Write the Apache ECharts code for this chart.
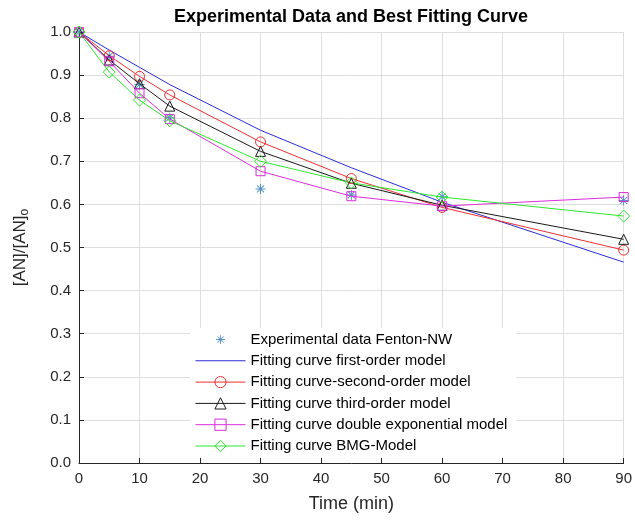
<!DOCTYPE html>
<html>
<head>
<meta charset="utf-8">
<title>Experimental Data and Best Fitting Curve</title>
<script src="https://cdn.jsdelivr.net/npm/echarts@6/dist/echarts.min.js"></script>
<style>
  html, body { margin: 0; padding: 0; background: #fff; }
  #main { width: 635px; height: 521px; }
</style>
</head>
<body>
<div id="main"></div>
<script>
// time points (min)
var times = [0, 5, 10, 15, 30, 45, 60, 90];

// values, [AN]/[AN]o
var experimental = [1.0, 0.944, 0.878, 0.801, 0.636, 0.622, 0.618, 0.609];
var firstOrder = [1.0, 0.958, 0.918, 0.878, 0.772, 0.685, 0.605, 0.466];
var secondOrder = [1.0, 0.945, 0.897, 0.854, 0.745, 0.660, 0.593, 0.494];
var thirdOrder = [1.0, 0.935, 0.880, 0.828, 0.723, 0.649, 0.598, 0.519];
var doubleExp = [1.0, 0.932, 0.858, 0.798, 0.677, 0.619, 0.596, 0.617];
var bmgModel = [1.0, 0.907, 0.842, 0.794, 0.700, 0.650, 0.617, 0.573];

var legendNames = [
    'Experimental data Fenton-NW',
    'Fitting curve first-order model',
    'Fitting curve-second-order model',
    'Fitting curve third-order model',
    'Fitting curve double exponential model',
    'Fitting curve BMG-Model'
];

var blue = '#2b2bd6';

function pairs(vals) {
    return times.map(function (t, i) { return [t, vals[i]]; });
}

// matlab style '*' marker, corners padded so the star sits inside a larger box
var asterisk = 'path://M-8 -8 Z M8 8 Z ' +
    'M-0.5 -5 L0.5 -5 L0.5 5 L-0.5 5 Z ' +
    'M-5 -0.5 L5 -0.5 L5 0.5 L-5 0.5 Z ' +
    'M-3.15 -3.85 L3.85 3.15 L3.15 3.85 L-3.85 -3.15 Z ' +
    'M-3.85 3.15 L3.15 -3.85 L3.85 -3.15 L-3.15 3.85 Z';

// plain line for the legend entry of the marker-less curve
var plainLine = 'path://M0 0 L50 0 L50 1 L0 1 Z';

var font = "'Liberation Sans', Arial, Helvetica, sans-serif";

function fitLine(name, vals, color, symbol, size) {
    return {
        name: name,
        type: 'line',
        data: pairs(vals),
        symbol: symbol,
        symbolSize: size,
        showSymbol: symbol !== 'none',
        lineStyle: { color: color, width: 1 },
        itemStyle: { color: 'rgba(0,0,0,0)', borderColor: color, borderWidth: 1 },
        emphasis: { disabled: true },
        animation: false
    };
}

var myChart = echarts.init(document.getElementById('main'));
var option = {
    backgroundColor: '#fff',
    animation: false,
    title: {
        text: 'Experimental Data and Best Fitting Curve',
        left: 351,
        textAlign: 'center',
        top: 8,
        padding: 0,
        textStyle: { fontFamily: font, fontSize: 18, fontWeight: 'bold', color: '#000' }
    },
    grid: { left: 79, right: 11, top: 32, bottom: 58 },
    legend: {
        orient: 'vertical',
        left: 190,
        top: 328,
        padding: [4, 9, 4, 5],
        backgroundColor: '#fff',
        itemWidth: 50,
        itemHeight: 14,
        itemGap: 6.3,
        itemStyle: { borderWidth: 1 },
        lineStyle: { width: 1 },
        textStyle: { fontFamily: font, fontSize: 15, color: '#000', lineHeight: 14 },
        data: [
            legendNames[0],
            { name: legendNames[1], icon: plainLine, itemStyle: { color: blue, borderWidth: 0 } },
            legendNames[2],
            legendNames[3],
            legendNames[4],
            legendNames[5]
        ]
    },
    xAxis: {
        type: 'value',
        min: 0,
        max: 90,
        interval: 10,
        name: 'Time (min)',
        nameLocation: 'middle',
        nameGap: 32,
        nameTextStyle: { fontFamily: font, fontSize: 18, color: '#262626' },
        axisLine: { show: true, lineStyle: { color: '#262626', width: 1 } },
        axisTick: { show: true, inside: true, length: 5, lineStyle: { color: '#262626' } },
        axisLabel: { fontFamily: font, fontSize: 15, color: '#262626', margin: 8 },
        splitLine: { show: true, lineStyle: { color: '#dedede', width: 1 } }
    },
    yAxis: {
        type: 'value',
        min: 0,
        max: 1,
        interval: 0.1,
        name: '{n|[AN]/[AN]}{sub|o}',
        nameLocation: 'middle',
        nameRotate: 90,
        nameGap: 48,
        nameTextStyle: {
            fontFamily: font,
            color: '#262626',
            rich: {
                n: { fontFamily: font, fontSize: 17, color: '#262626' },
                sub: { fontFamily: font, fontSize: 12, color: '#262626', padding: [9, 0, 0, 0] }
            }
        },
        axisLine: { show: true, lineStyle: { color: '#262626', width: 1 } },
        axisTick: { show: true, inside: true, length: 5, lineStyle: { color: '#262626' } },
        axisLabel: {
            fontFamily: font, fontSize: 15, color: '#262626', margin: 8,
            formatter: function (v) { return v.toFixed(1); }
        },
        splitLine: { show: true, lineStyle: { color: '#dedede', width: 1 } }
    },
    series: [
        {
            name: legendNames[0],
            type: 'scatter',
            data: pairs(experimental),
            symbol: asterisk,
            symbolSize: 16,
            itemStyle: { color: '#2a7ab8' },
            emphasis: { disabled: true },
            animation: false
        },
        fitLine(legendNames[1], firstOrder, blue, 'none', 0),
        fitLine(legendNames[2], secondOrder, '#ec3030', 'circle', 10),
        fitLine(legendNames[3], thirdOrder, '#1a1a1a', 'triangle', 10),
        fitLine(legendNames[4], doubleExp, '#dc2cdc', 'rect', 9),
        fitLine(legendNames[5], bmgModel, '#2ee62e', 'diamond', 12)
    ]
};
myChart.setOption(option);
</script>
</body>
</html>
